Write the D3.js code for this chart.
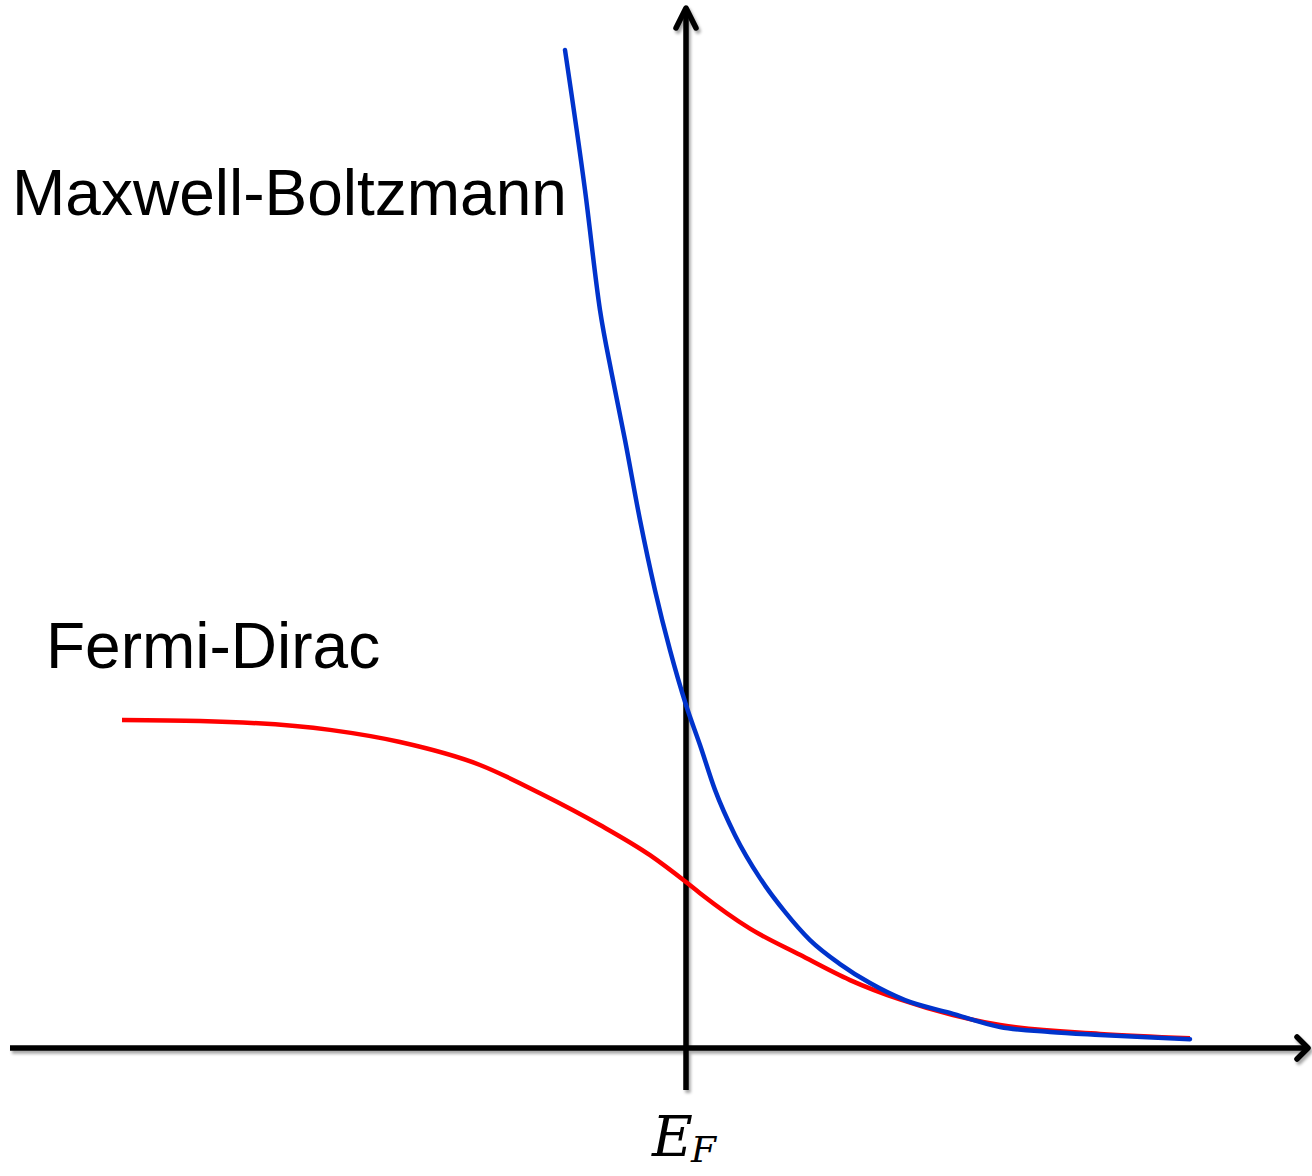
<!DOCTYPE html>
<html><head><meta charset="utf-8">
<script src="https://cdn.jsdelivr.net/npm/d3@7"></script>
<style>html,body{margin:0;padding:0;background:#fff;}svg{display:block;}</style>
</head><body>
<script>
// Energy relative to E_F (arbitrary units) and occupancy values
const fdEnergy = [-5.64, -4.86, -3.56, -2.86, -2.06, -1.46, -0.86, -0.36, 0, 0.14, 0.64, 1.14, 1.64, 2.14, 3.14, 4.14, 5.04];
const fdValue  = [1.0, 0.997, 0.970, 0.933, 0.863, 0.777, 0.680, 0.588, 0.506, 0.472, 0.364, 0.284, 0.207, 0.148, 0.070, 0.043, 0.030];
const mbEnergy = [-1.21, -1.01, -0.86, -0.74, -0.61, -0.46, -0.31, -0.16, 0, 0.14, 0.29, 0.49, 0.74, 0.99, 1.24, 1.54, 1.84, 2.19, 2.64, 3.14, 3.64, 4.14, 5.04];
const mbValue  = [3.043, 2.616, 2.250, 2.052, 1.854, 1.610, 1.396, 1.213, 1.046, 0.924, 0.787, 0.649, 0.518, 0.415, 0.329, 0.256, 0.198, 0.146, 0.107, 0.064, 0.049, 0.040, 0.027];
const labels = {mb: "Maxwell-Boltzmann", fd: "Fermi-Dirac"};
const xDomain = [-6.76, 6.22];
const yDomain = [-0.128, 3.171];

const W = 1312, H = 1176;
const svg = d3.select("body").append("svg").attr("width", W).attr("height", H);
const defs = svg.append("defs");
const f = defs.append("filter").attr("id","sh").attr("x","-10%").attr("y","-10%").attr("width","120%").attr("height","120%");
f.append("feDropShadow").attr("dx",2).attr("dy",3).attr("stdDeviation",1.6).attr("flood-color","#000").attr("flood-opacity",0.35);

const x = d3.scaleLinear().domain(xDomain).range([10, 1308]);
const y = d3.scaleLinear().domain(yDomain).range([1090, 8]);

// Axes
const axes = svg.append("g").attr("filter","url(#sh)").attr("stroke","#000").attr("stroke-width",5.5).attr("fill","none").attr("stroke-linecap","round").attr("stroke-linejoin","round");
axes.append("line").attr("x1", x(xDomain[0])).attr("x2", x(xDomain[1]) - 2).attr("y1", y(0)).attr("y2", y(0)).attr("stroke-linecap","butt");
axes.append("line").attr("x1", x(0)).attr("x2", x(0)).attr("y1", y(yDomain[0])).attr("y2", y(yDomain[1]) + 2).attr("stroke-linecap","butt");
// arrowheads
const xe = x(xDomain[1]), ye = y(yDomain[1]);
axes.append("path").attr("d", `M${xe-11},${y(0)-11} L${xe},${y(0)} L${xe-11},${y(0)+11}`);
axes.append("path").attr("d", `M${x(0)-10},${ye+20} L${x(0)},${ye} L${x(0)+10},${ye+20}`);

const line = d3.line().x(d => x(d[0])).y(d => y(d[1])).curve(d3.curveMonotoneX);
svg.append("path").datum(d3.zip(fdEnergy, fdValue)).attr("d", line)
  .attr("fill","none").attr("stroke","#ff0000").attr("stroke-width",4.5).attr("stroke-linecap","butt");
svg.append("path").datum(d3.zip(mbEnergy, mbValue)).attr("d", line)
  .attr("fill","none").attr("stroke","#0033cc").attr("stroke-width",4.5).attr("stroke-linecap","round");

// Labels
svg.append("text").attr("x", 12).attr("y", 215).attr("font-family","'Liberation Sans', Arial, sans-serif")
  .attr("font-size", 64).attr("fill","#000").text(labels.mb);
svg.append("text").attr("x", 46).attr("y", 668).attr("font-family","'Liberation Sans', Arial, sans-serif")
  .attr("font-size", 64).attr("fill","#000").text(labels.fd);
const ef = svg.append("text").attr("x", 652).attr("y", 1156).attr("font-family","'DejaVu Serif', 'Liberation Serif', serif")
  .attr("font-style","italic").attr("font-size", 56).attr("fill","#000");
ef.append("tspan").text("E");
ef.append("tspan").attr("font-size", 36).attr("dy", 6).attr("dx", -2).text("F");
</script>
</body></html>
